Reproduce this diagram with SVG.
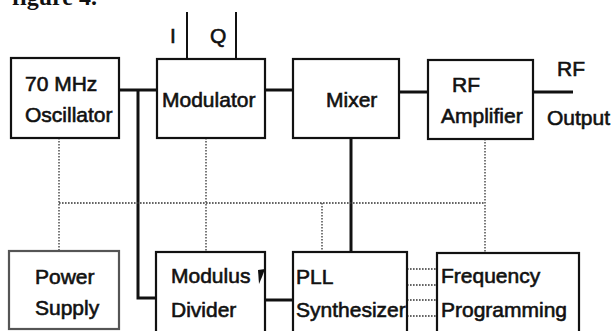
<svg xmlns="http://www.w3.org/2000/svg" width="613" height="331" viewBox="0 0 613 331">
<style>
.box{fill:#fff;stroke:#111;stroke-width:2.2}
.lt{font-family:"Liberation Sans",Arial,sans-serif;font-size:21px;fill:#111;stroke:#111;stroke-width:0.6}
.thick{fill:none;stroke:#111;stroke-width:3}
.thin{fill:none;stroke:#111;stroke-width:2}
.dot{fill:none;stroke:#333;stroke-width:1.3;stroke-dasharray:1.6 1.4}
</style>
<rect width="613" height="331" fill="#fff"/>
<text x="12" y="5" style="font-family:'Liberation Serif',serif;font-weight:bold;font-size:24px;fill:#111">figure 4.</text>
<g id="connectors">
<path class="thick" d="M119,90 H157"/>
<path class="thick" d="M138,90 V298 H157"/>
<path class="thin" d="M187,12 V59"/>
<path class="thin" d="M236,12 V59"/>
<path class="thick" d="M265,90 H293"/>
<path class="thick" d="M399,92 H428"/>
<path class="thick" d="M533,92 H573"/>
<path class="thick" d="M351,138 V252"/>
<path class="thick" d="M265,300 H293"/>
<path class="dot" d="M59,138 V251"/>
<path class="dot" d="M59,203 H485"/>
<path class="dot" d="M206,138 V252"/>
<path class="dot" d="M485,139 V253"/>
<path class="dot" d="M322,203 V252"/>
<path class="dot" d="M398,269 H437 M398,285 H437 M398,300 H437 M398,316 H437"/>
</g>
<text class="lt" x="170" y="43">I</text>
<text class="lt" x="210" y="43">Q</text>
<text class="lt" x="557" y="76">RF</text>
<text class="lt" x="547" y="125">Output</text>
<g id="oscillator">
<rect class="box" x="11" y="58" width="108" height="80"/>
<text class="lt" x="25" y="91">70 MHz</text>
<text class="lt" x="25" y="122">Oscillator</text>
</g>
<g id="modulator">
<rect class="box" x="157" y="59" width="108" height="79"/>
<text class="lt" x="162" y="107">Modulator</text>
</g>
<g id="mixer">
<rect class="box" x="293" y="59" width="106" height="79"/>
<text class="lt" x="326" y="107">Mixer</text>
</g>
<g id="rf-amplifier">
<rect class="box" x="428" y="60" width="105" height="79"/>
<text class="lt" x="452" y="92">RF</text>
<text class="lt" x="441" y="123">Amplifier</text>
</g>
<g id="power-supply">
<rect class="box" x="9" y="251" width="110" height="78" style="stroke:#555"/>
<text class="lt" x="35" y="284">Power</text>
<text class="lt" x="35" y="315">Supply</text>
</g>
<g id="modulus-divider">
<rect class="box" x="156" y="252" width="109" height="90"/>
<text class="lt" x="171" y="283">Modulus</text>
<text class="lt" x="171" y="317">Divider</text>
<polygon points="258,270 265,269 262,277 259,284" fill="#111"/>
</g>
<g id="pll-synthesizer">
<rect class="box" x="293" y="252" width="114" height="90"/>
<text class="lt" x="296" y="284">PLL</text>
<text class="lt" x="296" y="317">Synthesizer</text>
</g>
<g id="frequency-programming">
<rect class="box" x="437" y="253" width="142" height="90"/>
<text class="lt" x="441" y="283">Frequency</text>
<text class="lt" x="441" y="317">Programming</text>
</g>
</svg>
